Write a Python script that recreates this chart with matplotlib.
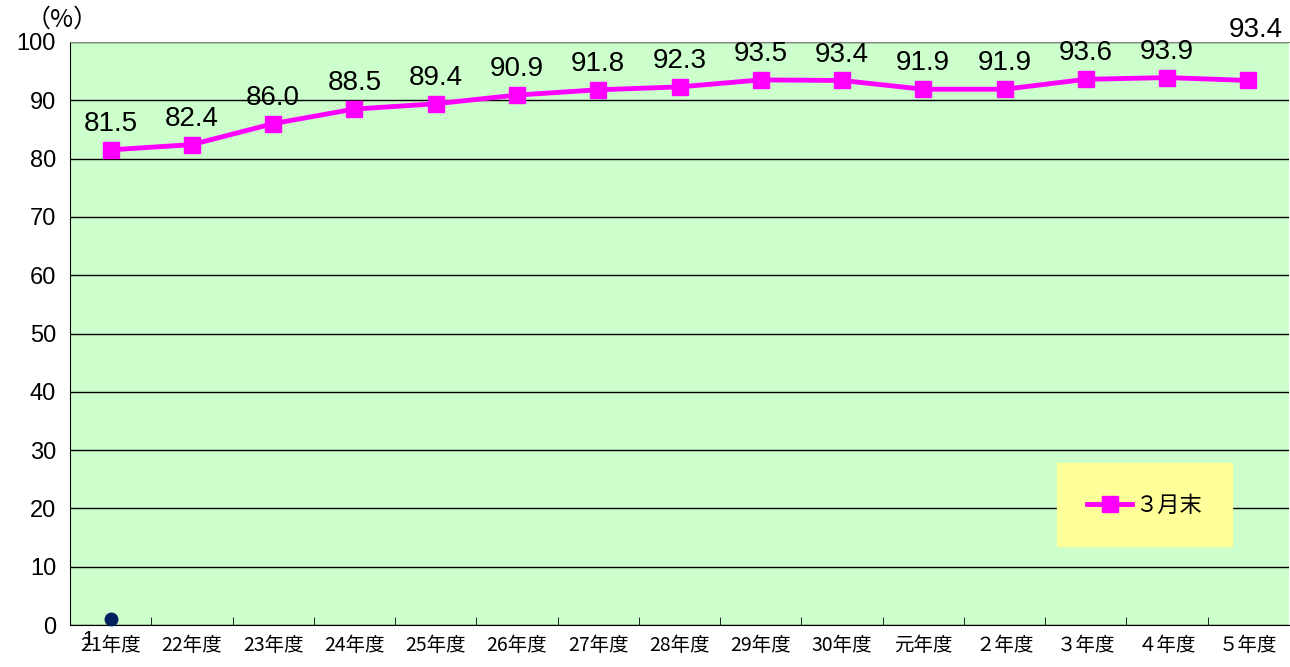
import matplotlib.pyplot as plt
import numpy as np

plt.rcParams['font.family'] = ['Noto Sans CJK JP', 'DejaVu Sans']

# data
years = ['21年度', '22年度', '23年度', '24年度', '25年度', '26年度', '27年度', '28年度',
         '29年度', '30年度', '元年度', '２年度', '３年度', '４年度', '５年度']
march_end = [81.5, 82.4, 86.0, 88.5, 89.4, 90.9, 91.8, 92.3, 93.5, 93.4, 91.9, 91.9, 93.6, 93.9, 93.4]
dot_value = [1]

num_font = ['Liberation Sans Narrow', 'Liberation Sans', 'DejaVu Sans']

fig = plt.figure(figsize=(12.9, 6.67), dpi=100)
ax = fig.add_axes([70 / 1290, 42 / 667, 1219 / 1290, 583 / 667])
ax.set_facecolor('#CCFFCC')

x = np.arange(len(years))
ax.plot(x, march_end, color='#FF00FF', lw=3.5, marker='s', ms=12,
        label='３月末', zorder=3)
ax.plot(x[:1], dot_value, 'o', color='#002060', ms=9, zorder=3, clip_on=False)

for i, v in enumerate(march_end):
    if i == len(march_end) - 1:
        ax.text(i + 0.43, 102.1, f'{v:.1f}', ha='right', va='center', fontsize=20,
                family=num_font, clip_on=False)
    else:
        ax.text(i, v + 2.2, f'{v:.1f}', ha='center', va='bottom', fontsize=20,
                family=num_font)
ax.text(-0.28, -0.8, '1', ha='center', va='top', fontsize=15, family=num_font)

ax.set_xlim(-0.5, len(years) - 0.5)
ax.set_ylim(0, 100)
ax.set_yticks(np.arange(0, 101, 10))
ax.set_yticklabels([str(t) for t in range(0, 101, 10)], fontsize=17, family=num_font)
ax.yaxis.grid(True, color='black', lw=1)
ax.set_axisbelow(True)

ax.set_xticks(x)
ax.set_xticklabels(years, fontsize=14)
ax.tick_params(axis='x', length=0, pad=7)
ax.set_xticks(np.arange(0.5, len(years) - 0.5, 1), minor=True)
ax.tick_params(axis='x', which='minor', direction='in', length=6)
ax.tick_params(axis='y', length=0, pad=10)

ax.spines['top'].set_color('#888888')
ax.spines['right'].set_visible(False)
ax.spines['left'].set_color('black')
ax.spines['bottom'].set_color('black')

fig.text(26 / 1290, 1 - 20 / 667, '（%）', fontsize=18, va='center', ha='left')

leg = ax.legend(loc='center', bbox_to_anchor=(0.8815, 0.206), fontsize=16,
                frameon=True, fancybox=False, borderpad=1.35, handlelength=2.0,
                handletextpad=0.15, borderaxespad=0)
leg.get_frame().set_facecolor('#FFFF99')
leg.get_frame().set_edgecolor('#FFFF99')
leg.get_frame().set_alpha(1)

fig.savefig('out.png', dpi=100)
plt.close()
